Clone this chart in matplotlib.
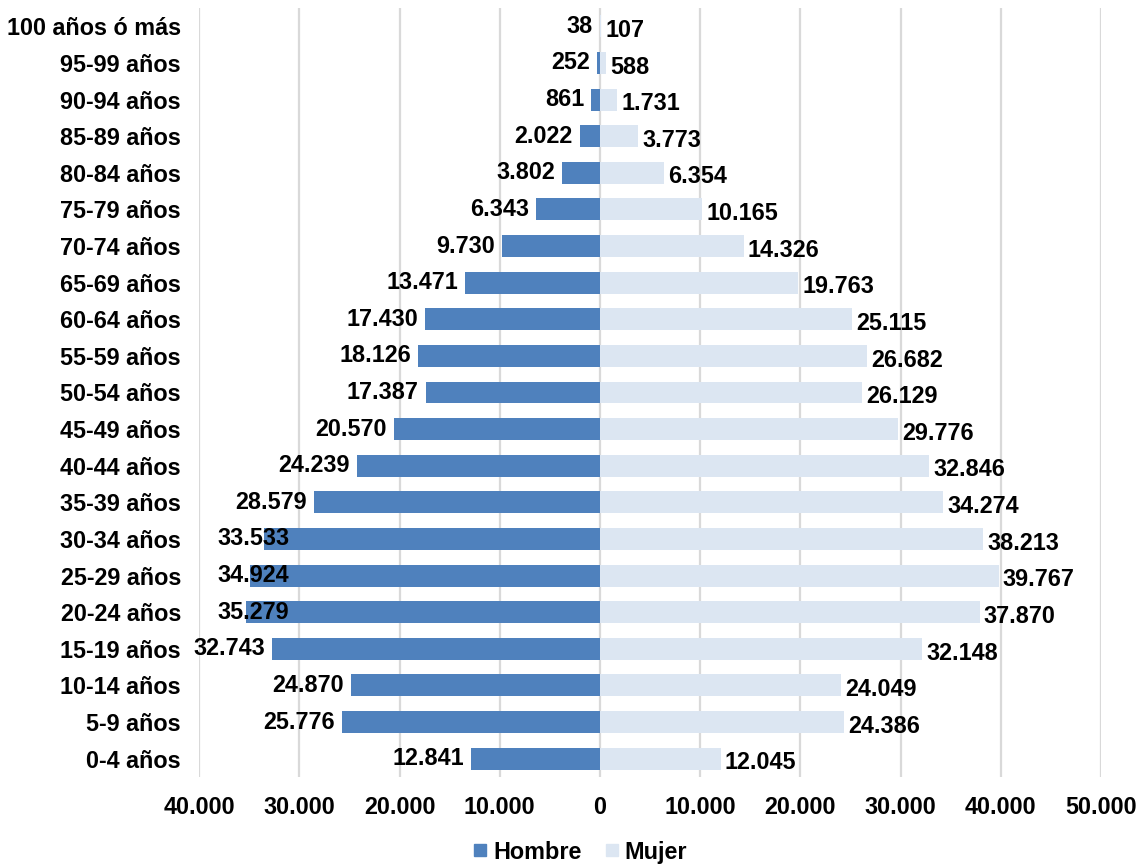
import matplotlib.pyplot as plt
from matplotlib.lines import Line2D
from matplotlib.ticker import FuncFormatter

# age groups, bottom to top
grupos = ['0-4 años', '5-9 años', '10-14 años', '15-19 años', '20-24 años',
          '25-29 años', '30-34 años', '35-39 años', '40-44 años', '45-49 años',
          '50-54 años', '55-59 años', '60-64 años', '65-69 años', '70-74 años',
          '75-79 años', '80-84 años', '85-89 años', '90-94 años', '95-99 años',
          '100 años ó más']
hombre = [12841, 25776, 24870, 32743, 35279, 34924, 33533, 28579, 24239, 20570,
          17387, 18126, 17430, 13471, 9730, 6343, 3802, 2022, 861, 252, 38]
mujer = [12045, 24386, 24049, 32148, 37870, 39767, 38213, 34274, 32846, 29776,
         26129, 26682, 25115, 19763, 14326, 10165, 6354, 3773, 1731, 588, 107]
ticks = [-40000, -30000, -20000, -10000, 0, 10000, 20000, 30000, 40000, 50000]

C_H = '#4f81bd'
C_M = '#dce6f2'

plt.rcParams['font.family'] = ['Liberation Sans', 'DejaVu Sans']
plt.rcParams['font.weight'] = 'bold'
FS = 16.8
LIMITE = -31000  # hombre labels never go further left than this (as in the original)


def miles(v):
    return f'{abs(int(v)):,}'.replace(',', '.')


fig = plt.figure(figsize=(11.44, 8.65), dpi=100)
ax = fig.add_axes([0.174, 0.1017, 0.7885, 0.8891])

y = list(range(len(grupos)))
ax.barh(y, [-v for v in hombre], height=0.6, color=C_H, zorder=3)
ax.barh(y, mujer, height=0.6, color=C_M, zorder=3)

# data labels just outside the bar ends
for i in y:
    if -hombre[i] < LIMITE and hombre[i] > 33000:
        ax.annotate(miles(hombre[i]), (LIMITE, i), xytext=(0, 0),
                    textcoords='offset points', ha='right', va='center',
                    fontsize=FS, fontweight='bold', color='black', zorder=4)
    else:
        ax.annotate(miles(hombre[i]), (-hombre[i], i), xytext=(-5, 0),
                    textcoords='offset points', ha='right', va='center',
                    fontsize=FS, fontweight='bold', color='black', zorder=4)
    ax.annotate(miles(mujer[i]), (mujer[i], i), xytext=(3, -3),
                textcoords='offset points', ha='left', va='center',
                fontsize=FS, fontweight='bold', color='black', zorder=4)

ax.set_xlim(ticks[0], ticks[-1])
ax.set_ylim(-0.5, len(grupos) - 0.5)
ax.set_xticks(ticks)
ax.xaxis.set_major_formatter(FuncFormatter(lambda v, p: miles(v)))
ax.set_yticks(y)
ax.set_yticklabels(grupos)
ax.tick_params(axis='both', length=0, labelsize=FS)
ax.tick_params(axis='y', pad=13)
ax.tick_params(axis='x', pad=14)
for t in ax.get_xticklabels() + ax.get_yticklabels():
    t.set_fontweight('bold')

ax.grid(axis='x', color='#d9d9d9', linewidth=1.6, zorder=0)
ax.grid(axis='y', visible=False)
for s in ax.spines.values():
    s.set_visible(False)

handles = [Line2D([], [], marker='s', linestyle='none', markersize=9,
                  color=C_H, label='Hombre'),
           Line2D([], [], marker='s', linestyle='none', markersize=9,
                  color=C_M, label='Mujer')]
fig.legend(handles=handles, loc='center', bbox_to_anchor=(0.507, 0.015),
           ncol=2, frameon=False, handlelength=0.6, handletextpad=0.25,
           columnspacing=1.0, prop={'weight': 'bold', 'size': FS})

fig.savefig('out.png', dpi=100, facecolor='white')
